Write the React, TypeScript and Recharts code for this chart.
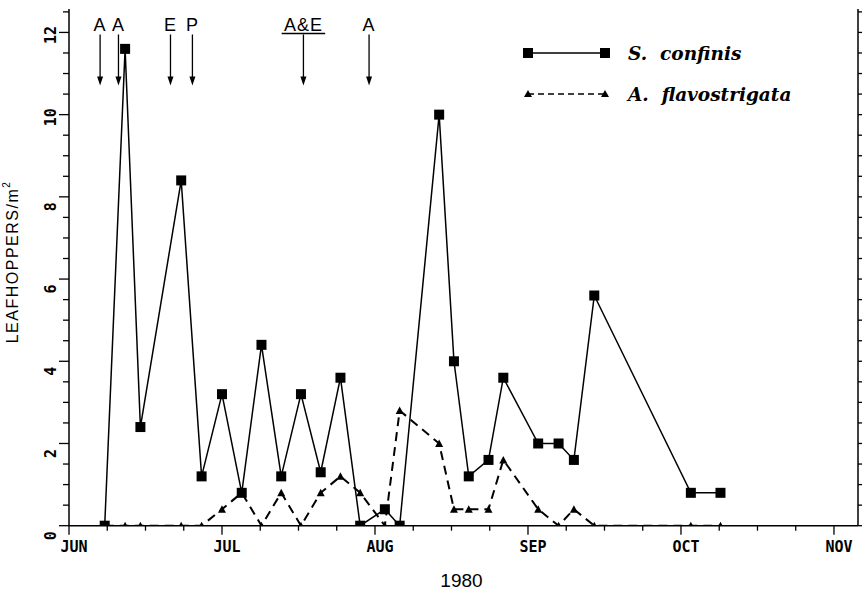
import React from 'react';
import { LineChart, Line, XAxis, YAxis, ReferenceDot, Legend } from 'recharts';

// Month labels on the x axis (equal-width months starting at June)
const MONTHS = ['JUN', 'JUL', 'AUG', 'SEP', 'OCT', 'NOV'];
const DAYS_IN_MONTH = [30, 31, 31, 30, 31, 30];

// Sampling dates (month index from June, day of month)
const sampleMonth = [0, 0, 0, 0, 0, 1, 1, 1, 1, 1, 1, 1, 1, 2, 2, 2, 2, 2, 2, 2, 3, 3, 3, 3, 4, 4];
const sampleDay = [8, 12, 15, 23, 27, 1, 5, 9, 13, 17, 21, 25, 29, 3, 6, 14, 17, 20, 24, 27, 3, 7, 10, 14, 3, 9];

// Leafhoppers per m^2
const sConfinis = [0, 11.6, 2.4, 8.4, 1.2, 3.2, 0.8, 4.4, 1.2, 3.2, 1.3, 3.6, 0, 0.4, 0, 10, 4.0, 1.2, 1.6, 3.6, 2.0, 2.0, 1.6, 5.6, 0.8, 0.8];
const aFlavostrigata = [0, 0, 0, 0, 0, 0.4, 0.8, 0, 0.8, 0, 0.8, 1.2, 0.8, 0, 2.8, 2.0, 0.4, 0.4, 0.4, 1.6, 0.4, 0, 0.4, 0, 0, 0];

const SERIES_NAMES = ['S. confinis', 'A. flavostrigata'];

// Event arrows at the top
const eventLabels = ['A', 'A', 'E', 'P', 'A&E', 'A'];
const eventMonth = [0, 0, 0, 0, 1, 1];
const eventDay = [7.1, 10.7, 20.9, 25.2, 17.5, 30.8];
const eventUnderlined = [false, false, false, false, true, false];

const Y_TICKS = Array.from({ length: 26 }, (_, i) => i * 0.5);
const X_TICKS = Array.from({ length: 21 }, (_, i) => i * 0.25);

const toPos = (m: number, d: number) => m + (d - 1) / DAYS_IN_MONTH[m];

const data = sampleMonth.map((m, i) => ({
  x: toPos(m, sampleDay[i]),
  s: sConfinis[i],
  a: aFlavostrigata[i],
}));

const TICK_FONT = '"DejaVu Sans Mono", monospace';
const SANS = '"Liberation Sans", Arial, sans-serif';
const SERIF = '"DejaVu Serif", serif';

const XTick = (props: any) => {
  const { x, y, payload } = props;
  const v = payload.value;
  const major = Math.abs(v - Math.round(v)) < 1e-6;
  return (
    <g>
      <line x1={x} x2={x} y1={y} y2={y + (major ? 9 : 5)} stroke="#000" strokeWidth={1.3} />
      {major && (
        <text x={x + 5} y={y + 21} textAnchor="middle" dominantBaseline="central" fontFamily={TICK_FONT} fontWeight="bold" fontSize={15} fill="#000">
          {MONTHS[Math.round(v)]}
        </text>
      )}
    </g>
  );
};

const YTick = (props: any) => {
  const { x, y, payload } = props;
  const v = payload.value;
  const major = Math.abs(v / 2 - Math.round(v / 2)) < 1e-6;
  const label = String(Math.round(v));
  const cy = y + (label.length === 1 ? 10 : 2.5);
  const cx = 51;
  return (
    <g>
      <line x1={x} x2={x - (major ? 10 : 6)} y1={y} y2={y} stroke="#000" strokeWidth={1.3} />
      {major && (
        <text x={cx} y={cy} transform={`rotate(-90 ${cx} ${cy})`} textAnchor="middle" dominantBaseline="central" fontFamily={TICK_FONT} fontWeight="bold" fontSize={15} fill="#000">
          {label}
        </text>
      )}
    </g>
  );
};

const RightTick = (props: any) => {
  const { x, y } = props;
  return <line x1={x} x2={x + 4} y1={y} y2={y} stroke="#000" strokeWidth={1.3} />;
};

const SquareDot = (props: any) => {
  const { cx, cy, index } = props;
  if (cx == null || cy == null) return <g key={index} />;
  return <rect key={index} x={cx - 5} y={cy - 5} width={10} height={10} fill="#000" />;
};

const TriangleDot = (props: any) => {
  const { cx, cy, index } = props;
  if (cx == null || cy == null) return <g key={index} />;
  return <polygon key={index} points={`${cx - 4},${cy + 3.5} ${cx + 4},${cy + 3.5} ${cx},${cy - 4}`} fill="#000" />;
};

const makeEventShape = (label: string, underline: boolean) => (props: any) => {
  const { cx, cy } = props;
  const w = label.length * 12.5;
  return (
    <g>
      <text x={cx} y={cy - 3.5} textAnchor="middle" fontFamily={SANS} fontSize={18} fill="#000" letterSpacing={1}>
        {label}
      </text>
      {underline && <line x1={cx - w / 2 - 3} x2={cx + w / 2 + 3} y1={cy - 1} y2={cy - 1} stroke="#000" strokeWidth={1.3} />}
      <line x1={cx} x2={cx} y1={cy} y2={cy + 46} stroke="#000" strokeWidth={1.3} />
      <polygon points={`${cx - 3},${cy + 42} ${cx + 3},${cy + 42} ${cx},${cy + 51}`} fill="#000" />
    </g>
  );
};

const LegendContent = () => (
  <svg width={320} height={80} style={{ overflow: 'visible' }}>
    <line x1={28} x2={105} y1={23} y2={23} stroke="#000" strokeWidth={1.5} />
    <rect x={23} y={18} width={10} height={10} fill="#000" />
    <rect x={100} y={18} width={10} height={10} fill="#000" />
    <text x={128} y={29.5} fontFamily={SERIF} fontStyle="italic" fontWeight="bold" fontSize={18.5} fill="#000" style={{ whiteSpace: 'pre' }}>
      {SERIES_NAMES[0].replace('. ', '.  ')}
    </text>
    <line x1={28} x2={105} y1={64} y2={64} stroke="#000" strokeWidth={1.5} strokeDasharray="6 4" />
    <polygon points="24,67 32,67 28,60" fill="#000" />
    <polygon points="101,67 109,67 105,60" fill="#000" />
    <text x={128} y={71} fontFamily={SERIF} fontStyle="italic" fontWeight="bold" fontSize={18.5} fill="#000" style={{ whiteSpace: 'pre' }}>
      {SERIES_NAMES[1].replace('. ', '.  ')}
    </text>
  </svg>
);

const XTitle = (props: any) => {
  const vb = props.viewBox || { x: 69, width: 789, y: 525.7 };
  return (
    <text x={vb.x + vb.width / 2 - 2} y={587} textAnchor="middle" fontFamily={SANS} fontSize={19} fill="#000">
      1980
    </text>
  );
};

const YTitle = () => (
  <text x={12} y={262} transform="rotate(-90 12 262)" textAnchor="middle" dominantBaseline="central" fontFamily={SANS} fontSize={16} letterSpacing={1.5} fill="#000">
    LEAFHOPPERS/m<tspan dy={-6} fontSize={10}>2</tspan>
  </text>
);

export default function App() {
  return (
    <div style={{ position: 'absolute', left: 0, top: 0, width: 862, height: 591, background: '#fff' }}>
      <LineChart width={862} height={591} data={data} margin={{ top: 9, right: 0, bottom: 0, left: 0 }}>
        <XAxis
          dataKey="x"
          type="number"
          domain={[0, 5.157]}
          ticks={X_TICKS}
          allowDataOverflow
          tick={<XTick />}
          tickLine={false}
          tickSize={0}
          tickMargin={0}
          height={65.3}
          axisLine={{ stroke: '#000', strokeWidth: 1.5 }}
          interval={0}
          label={<XTitle />}
        />
        <XAxis
          xAxisId="top"
          orientation="top"
          dataKey="x"
          type="number"
          domain={[0, 5.157]}
          height={0}
          tick={false}
          tickLine={false}
          axisLine={{ stroke: '#000', strokeWidth: 1.5 }}
        />
        <YAxis
          type="number"
          domain={[0, 12.57]}
          ticks={Y_TICKS}
          allowDataOverflow
          tick={<YTick />}
          tickLine={false}
          tickSize={0}
          tickMargin={0}
          width={69}
          interval={0}
          axisLine={{ stroke: '#000', strokeWidth: 1.5 }}
          label={<YTitle />}
        />
        <YAxis
          yAxisId="right"
          orientation="right"
          type="number"
          domain={[0, 12.57]}
          ticks={Y_TICKS}
          allowDataOverflow
          tick={<RightTick />}
          tickLine={false}
          tickSize={0}
          tickMargin={0}
          width={4}
          interval={0}
          axisLine={{ stroke: '#000', strokeWidth: 1.5 }}
        />
        <Legend
          layout="horizontal"
          verticalAlign="middle"
          align="center"
          content={<LegendContent />}
          wrapperStyle={{ left: 500, top: 30, width: 320, height: 80 }}
        />
        <Line
          dataKey="a"
          stroke="#000"
          strokeWidth={2}
          strokeDasharray="9 6"
          dot={<TriangleDot />}
          activeDot={false}
          isAnimationActive={false}
          legendType="none"
        />
        <Line
          dataKey="s"
          stroke="#000"
          strokeWidth={1.5}
          dot={<SquareDot />}
          activeDot={false}
          isAnimationActive={false}
          legendType="none"
        />
        {eventLabels.map((lab, i) => (
          <ReferenceDot
            key={i}
            x={toPos(eventMonth[i], eventDay[i])}
            y={11.95}
            shape={makeEventShape(lab, eventUnderlined[i])}
            ifOverflow="visible"
          />
        ))}
      </LineChart>
    </div>
  );
}
